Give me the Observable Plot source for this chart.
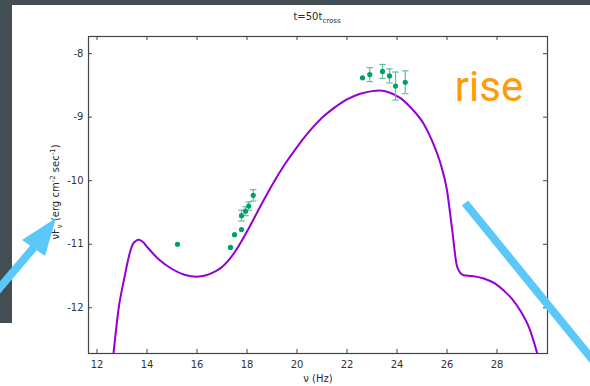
<!DOCTYPE html>
<html>
<head>
<meta charset="utf-8">
<script src="https://cdn.jsdelivr.net/npm/d3@7"></script>
<script src="https://cdn.jsdelivr.net/npm/@observablehq/plot@0.6"></script>
<style>
  html, body { margin: 0; padding: 0; background: #ffffff; }
  #wrap { position: relative; width: 590px; height: 386px; overflow: hidden; background: #ffffff; font-family: "DejaVu Sans", sans-serif; }
  .dark { position: absolute; background: #434e54; }
  #chart { position: absolute; left: 0; top: 0; }
  .lbl { position: absolute; font-size: 10px; color: #2a2a2a; white-space: nowrap; line-height: 1; }
  .lbl sub, .lbl sup { font-size: 7px; line-height: 0; }
  #ylab { left: 56px; top: 192px; transform: translate(-50%, -50%) rotate(-90deg); }
  #title { left: 317px; top: 17px; transform: translate(-50%, -50%); }
  #xlab { left: 318px; top: 379px; transform: translate(-50%, -50%); }
  #overlay { position: absolute; left: 0; top: 0; }
</style>
</head>
<body>
<div id="wrap">
  <div class="dark" style="left:0;top:0;width:590px;height:5px"></div>
  <div class="dark" style="left:0;top:0;width:12px;height:323px"></div>
  <div id="chart"></div>
  <div class="lbl" id="title">t=50t<sub>cross</sub></div>
  <div class="lbl" id="xlab">ν (Hz)</div>
  <div class="lbl" id="ylab">νF<sub>ν</sub> (erg cm<sup>-2</sup> sec<sup>-1</sup>)</div>
  <svg id="overlay" width="590" height="386">
    <g stroke="#5bc8fa" stroke-width="8" fill="#5bc8fa">
      <line x1="-4" y1="292" x2="36" y2="245"/>
      <polygon points="56,218 22,240 45,256" stroke="none"/>
      <line x1="465" y1="203" x2="600" y2="369"/>
    </g>
  </svg>
</div>
<script>
// model curve (log nu, log nuFnu)
const curveX = [12.66, 12.87, 13.1, 13.27, 13.43, 13.55, 13.67, 13.85, 14.0, 14.5, 15.0, 15.5, 16.0, 16.5, 17.0, 17.5, 18.0, 18.5, 19.0, 19.5, 20.0, 20.5, 21.0, 21.5, 22.0, 22.5, 23.0, 23.3, 23.6, 24.14, 24.6, 25.06, 25.4, 25.74, 26.0, 26.2, 26.41, 26.67, 27.0, 27.47, 28.0, 28.27, 28.6, 28.94, 29.3, 29.61];
const curveY = [-12.72, -12.0, -11.52, -11.2, -11.0, -10.95, -10.93, -10.97, -11.04, -11.25, -11.39, -11.48, -11.51, -11.47, -11.36, -11.13, -10.8, -10.43, -10.07, -9.75, -9.47, -9.22, -9.01, -8.85, -8.72, -8.635, -8.59, -8.58, -8.6, -8.7, -8.87, -9.1, -9.37, -9.73, -10.15, -10.75, -11.36, -11.49, -11.5, -11.54, -11.64, -11.73, -11.86, -12.05, -12.33, -12.72];

// observed points
const obsX = [15.22, 17.34, 17.5, 17.78, 17.78, 17.94, 18.07, 18.25, 22.62, 22.91, 23.42, 23.70, 23.94, 24.33];
const obsY = [-11.0, -11.05, -10.85, -10.77, -10.55, -10.48, -10.40, -10.23, -8.38, -8.33, -8.28, -8.35, -8.51, -8.45];
const obsErr = [0, 0, 0, 0, 0.085, 0.07, 0.065, 0.09, 0, 0.11, 0.11, 0.11, 0.22, 0.18];

const xTicks = [12, 14, 16, 18, 20, 22, 24, 26, 28];
const yTicks = [-8, -9, -10, -11, -12];

const noteText = ["rise"];
const noteX = [27.68];
const noteY = [-8.53];

const curve = curveX.map((x, i) => ({x, y: curveY[i]}));
const obs = obsX.map((x, i) => ({x, y: obsY[i], e: obsErr[i]}));
const errs = obs.filter(d => d.e > 0);
const notes = noteText.map((t, i) => ({t, x: noteX[i], y: noteY[i]}));

const W = 590, H = 386, mL = 88, mR = 43, mT = 36, mB = 33;
const innerW = W - mL - mR, innerH = H - mT - mB;

const cap = {draw(ctx) { ctx.moveTo(-3.2, 0); ctx.lineTo(3.2, 0); }};

const plot = Plot.plot({
  width: W, height: H,
  marginLeft: mL, marginRight: mR, marginTop: mT, marginBottom: mB,
  style: {background: "transparent", fontFamily: "DejaVu Sans, sans-serif", fontSize: "10px", color: "#333"},
  x: {domain: [11.66, 30.02]},
  y: {domain: [-12.72, -7.73]},
  marks: [
    Plot.frame({stroke: "#444", strokeWidth: 1.2}),
    Plot.ruleX(xTicks, {x: d => d, insetTop: innerH - 4, stroke: "#444"}),
    Plot.ruleX(xTicks, {x: d => d, insetBottom: innerH - 4, stroke: "#444"}),
    Plot.ruleY(yTicks, {y: d => d, insetRight: innerW - 4, stroke: "#444"}),
    Plot.ruleY(yTicks, {y: d => d, insetLeft: innerW - 4, stroke: "#444"}),
    Plot.axisX({ticks: xTicks, tickSize: 0, tickPadding: 7, tickFormat: d => String(d), label: null}),
    Plot.axisY({ticks: yTicks, tickSize: 0, tickPadding: 5, tickFormat: d => String(d), label: null}),
    Plot.line(curve, {x: "x", y: "y", stroke: "#9400d3", strokeWidth: 2, curve: "monotone-x", clip: true}),
    Plot.ruleX(errs, {x: "x", y1: d => d.y - d.e, y2: d => d.y + d.e, stroke: "#5fbf9f", strokeWidth: 1.2}),
    Plot.dot(errs, {x: "x", y: d => d.y - d.e, symbol: cap, r: 3, fill: "none", stroke: "#5fbf9f", strokeWidth: 1.2}),
    Plot.dot(errs, {x: "x", y: d => d.y + d.e, symbol: cap, r: 3, fill: "none", stroke: "#5fbf9f", strokeWidth: 1.2}),
    Plot.dot(obs, {x: "x", y: "y", r: 2.6, fill: "#009e73", stroke: "none"}),
    Plot.text(notes, {x: "x", y: "y", text: "t", fontSize: 42, fill: "#ff9a0a", fontFamily: "Roboto, sans-serif", textAnchor: "middle", lineAnchor: "middle"})
  ]
});
document.getElementById("chart").appendChild(plot);
</script>
</body>
</html>
